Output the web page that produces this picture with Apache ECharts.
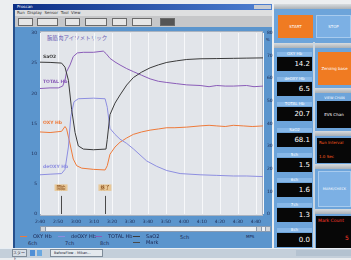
<!DOCTYPE html>
<html>
<head>
<meta charset="utf-8">
<script src="https://cdn.jsdelivr.net/npm/echarts@6/dist/echarts.min.js"></script>
<style>
html,body{margin:0;padding:0;}
body{width:351px;height:260px;position:relative;overflow:hidden;background:#eceef0;font-family:"DejaVu Sans",Arial,sans-serif;}
.a{position:absolute;box-sizing:border-box;}
.bar{position:absolute;height:5px;background:linear-gradient(#d8dcdf,#aab0b6);box-sizing:border-box;}
.lbl{position:absolute;left:277px;width:35px;height:4px;font-size:4px;line-height:4px;color:#fff;text-align:center;background:#88b8e8;}
.box{position:absolute;left:277px;width:35px;height:14px;background:#070707;color:#fff;font-size:7px;line-height:14px;text-align:right;padding-right:2px;box-sizing:border-box;}
.tb{position:absolute;top:18px;height:8px;background:#e6e6e6;border:1px solid #6a6a6a;box-sizing:border-box;}
.txt{position:absolute;white-space:nowrap;}
#chart{position:absolute;left:0;top:0;width:351px;height:260px;z-index:5;}
</style>
</head>
<body>
<!-- main window -->
<div class="a" style="left:13px;top:4px;width:259px;height:244px;background:#5b95cd;border-left:2px solid #27508c"></div>
<div class="a" style="left:13px;top:4px;width:259px;height:6px;background:linear-gradient(90deg,#0c2d84,#4e80d2)"></div>
<div class="txt" style="left:17px;top:4px;font-size:4px;line-height:6px;color:#fff">Proscan</div>
<div class="a" style="left:254px;top:5px;width:17px;height:4px;background:#c8ccd2"></div>
<div class="a" style="left:15px;top:10px;width:257px;height:6px;background:#dedfe0"></div>
<div class="txt" style="left:17px;top:10px;font-size:4px;line-height:6px;color:#333">Run&nbsp;&nbsp;Display&nbsp;&nbsp;Sensor&nbsp;&nbsp;Tool&nbsp;&nbsp;View</div>
<div class="a" style="left:15px;top:16px;width:257px;height:11px;background:#c6c7c9"></div>
<div class="tb" style="left:18px;width:15px"></div>
<div class="tb" style="left:37px;width:21px"></div>
<div class="tb" style="left:65px;width:15px"></div>
<div class="tb" style="left:85px;width:22px"></div>
<div class="tb" style="left:112px;width:15px"></div>
<div class="tb" style="left:132px;width:20px"></div>
<div class="tb" style="left:160px;width:15px;background:#555"></div>
<!-- plot background -->
<div class="a" style="left:40px;top:31px;width:223px;height:185px;background:#e2e5ea;border:1px solid #aab3c0"></div>
<div class="txt" style="left:47px;top:35px;font-size:5.5px;line-height:7px;color:#6a5cb4;font-family:'Noto Sans CJK JP'">腕筋肉アイソメトリック</div>
<div class="txt" style="left:266px;top:37px;font-size:4px;color:#1c2850">%</div>
<!-- scrollbar -->
<div class="a" style="left:40px;top:226px;width:231px;height:6px;background:#eef1f4;border:1px solid #8a9aae"></div>
<div class="a" style="left:40px;top:226px;width:6px;height:6px;background:#d4d8dc;border:1px solid #8a9aae"></div>
<div class="a" style="left:256px;top:226px;width:6px;height:6px;background:#d4d8dc;border:1px solid #8a9aae"></div>
<div class="a" style="left:265px;top:226px;width:6px;height:6px;background:#d4d8dc;border:1px solid #8a9aae"></div>
<!-- channel labels under legend -->
<div class="txt" style="left:180px;top:234px;font-size:5px;color:#1a2450">5ch</div>
<div class="txt" style="left:246px;top:234px;font-size:4px;color:#1a2450">MPS</div>
<div class="txt" style="left:28px;top:240px;font-size:5px;color:#1a2450">6ch</div>
<div class="txt" style="left:65px;top:240px;font-size:5px;color:#1a2450">7ch</div>
<div class="txt" style="left:100px;top:240px;font-size:5px;color:#1a2450">8ch</div>
<!-- right panel -->
<div class="a" style="left:274px;top:4px;width:77px;height:244px;background:#6da4da"></div>
<div class="bar" style="left:274px;top:4px;width:77px"></div>
<div class="a" style="left:278px;top:15px;width:35px;height:23px;background:#f07b22;color:#fff;font-size:4px;line-height:23px;text-align:center">START</div>
<div class="a" style="left:316px;top:15px;width:35px;height:23px;background:#7cb0e4;border:1px solid #a8cbee;color:#fff;font-size:4px;line-height:21px;text-align:center">STOP</div>
<div class="a" style="left:313px;top:42px;width:2px;height:206px;background:#c9d6e2"></div>
<div class="bar" style="left:274px;top:43px;width:39px"></div>
<div class="bar" style="left:315px;top:43px;width:36px"></div>
<div class="lbl" style="top:52px">OXY Hb</div><div class="box" style="top:57px">14.2</div>
<div class="lbl" style="top:77px">deOXY Hb</div><div class="box" style="top:82px">6.5</div>
<div class="lbl" style="top:102px">TOTAL Hb</div><div class="box" style="top:107px">20.7</div>
<div class="lbl" style="top:128px">SaO2</div><div class="box" style="top:133px">68.1</div>
<div class="lbl" style="top:153px">5ch</div><div class="box" style="top:158px">1.5</div>
<div class="lbl" style="top:178px">6ch</div><div class="box" style="top:183px">1.6</div>
<div class="lbl" style="top:203px">7ch</div><div class="box" style="top:208px">1.3</div>
<div class="lbl" style="top:228px">8ch</div><div class="box" style="top:233px">0.0</div>
<div class="a" style="left:318px;top:52px;width:33px;height:33px;background:#f07b22;color:#fff;font-size:4px;line-height:33px;text-align:center">Zeroing base</div>
<div class="bar" style="left:315px;top:88px;width:36px"></div>
<div class="a" style="left:318px;top:96px;width:33px;height:4px;font-size:3.5px;line-height:4px;color:#fff;text-align:center">VIEW CHAN</div>
<div class="a" style="left:317px;top:101px;width:34px;height:27px;background:#070707;color:#fff;font-size:4px;line-height:27px;text-align:center">EVS Chan</div>
<div class="bar" style="left:315px;top:131px;width:36px"></div>
<div class="a" style="left:317px;top:138px;width:34px;height:25px;background:#070707"></div>
<div class="txt" style="left:319px;top:140px;font-size:4px;color:#ff5a1e">Run Interval</div>
<div class="txt" style="left:319px;top:154px;font-size:4px;color:#ff5a1e">1.0 Sec</div>
<div class="bar" style="left:315px;top:164px;width:36px"></div>
<div class="a" style="left:318px;top:171px;width:33px;height:36px;background:#7cb0e4;border:1px solid #a8cbee;color:#fff;font-size:3.5px;line-height:34px;text-align:center">MARK/CHECK</div>
<div class="bar" style="left:315px;top:209px;width:36px"></div>
<div class="a" style="left:316px;top:216px;width:35px;height:32px;background:#070707"></div>
<div class="txt" style="left:318px;top:218px;font-size:4.5px;color:#ff3a2a">Mark Count</div>
<div class="txt" style="left:345px;top:234px;font-size:6px;color:#ff3a2a">5</div>
<!-- taskbar -->
<div class="a" style="left:0;top:248px;width:351px;height:10px;background:#c4cfda;border-top:1px solid #e8eef4"></div>
<div class="a" style="left:12px;top:249px;width:15px;height:8px;background:#d8dfe6;border:1px solid #7f8c99;font-size:3.5px;line-height:6px;color:#223">スタート</div>
<div class="a" style="left:30px;top:250px;width:5px;height:6px;background:#4f8fd6"></div>
<div class="a" style="left:37px;top:250px;width:5px;height:6px;background:#6aa8e0"></div>
<div class="a" style="left:50px;top:249px;width:53px;height:8px;background:#e4e9ee;border:1px solid #7f8c99;font-size:3.5px;line-height:6px;color:#223;padding-left:3px">BeforeFlow - Mikan...</div>
<div class="a" style="left:296px;top:250px;width:55px;height:6px;background:#b4c2d0"></div>
<div id="chart"></div>
<script>
// 時間軸 (秒)
const xTickLabels = ['2:40', '2:50', '3:00', '3:10', '3:20', '3:30', '3:40', '3:50', '4:00', '4:10', '4:20', '4:30', '4:40'];
const markTimes = [11.7, 36.1];
const markNames = ['開始', '終了'];

// OXY Hb (左軸)
const oxyT = [0, 5.6, 12.0, 13.9, 14.8, 16.7, 18.5, 20.4, 23.2, 29.7, 36.2, 37.4, 38.9, 41.7, 44.5, 48.2, 51.9, 56.5, 61.2, 66.0, 70.5, 75.0, 81.6, 89.0, 94.0, 98.3, 103.0, 107.5, 113.0, 118.0, 124.0];
const oxyV = [13.6, 13.5, 13.7, 14.5, 14.1, 11.6, 9.1, 8.0, 7.6, 7.4, 7.3, 8.0, 9.9, 11.1, 11.9, 12.6, 13.2, 13.6, 13.9, 14.1, 14.3, 14.3, 14.4, 14.6, 14.7, 14.6, 14.5, 14.7, 14.6, 14.5, 14.6];

// deOXY Hb (左軸)
const deoxyT = [0, 5.6, 12.0, 13.9, 15.8, 17.1, 18.9, 21.3, 29.7, 36.2, 37.4, 38.9, 41.7, 44.5, 48.2, 51.9, 59.3, 64.9, 70.5, 77.9, 89.0, 98.3, 107.5, 115.0, 124.0];
const deoxyV = [6.5, 6.6, 6.7, 7.4, 11.1, 16.1, 18.6, 19.1, 19.2, 19.1, 17.7, 14.2, 13.2, 12.4, 11.7, 10.8, 8.8, 7.9, 7.2, 6.7, 6.5, 6.4, 6.3, 6.3, 6.2];

// TOTAL Hb (左軸)
const totalT = [0, 5.6, 10.2, 12.6, 13.9, 14.8, 16.7, 18.5, 20.8, 24.1, 29.7, 35.2, 36.7, 38.9, 41.7, 44.5, 48.2, 51.9, 56.5, 61.2, 65.8, 70.5, 76.0, 81.6, 89.0, 94.0, 98.3, 103.0, 107.5, 114.9, 119.0, 124.0];
const totalV = [20.8, 20.9, 20.9, 21.2, 22.2, 23.6, 24.7, 26.1, 26.7, 26.8, 26.8, 27.0, 26.6, 25.8, 25.2, 24.7, 24.1, 23.6, 23.0, 22.4, 22.0, 21.8, 21.6, 21.4, 21.3, 21.1, 21.3, 21.2, 21.2, 21.3, 21.1, 21.2];

// SaO2 (右軸 %)
const sao2T = [0, 5.6, 12.0, 13.9, 15.8, 17.6, 19.5, 21.3, 24.1, 29.7, 36.7, 37.4, 38.9, 41.7, 44.5, 48.2, 51.9, 56.5, 61.2, 65.8, 70.5, 76.0, 81.6, 89.0, 98.3, 107.5, 115.0, 124.0];
const sao2V = [67.1, 67.0, 66.7, 64.9, 59.1, 46.1, 36.0, 30.1, 28.7, 28.4, 28.7, 33.0, 43.9, 49.0, 52.6, 57.0, 60.3, 62.7, 64.6, 65.9, 67.0, 67.7, 68.3, 68.6, 68.7, 68.8, 68.9, 69.0];

const pairs = (t, v) => t.map((x, i) => [x, v[i]]);

const chart = echarts.init(document.getElementById('chart'));

function lineSeries(name, t, v, color, axis, labelDy) {
  return {
    name: name,
    type: 'line',
    yAxisIndex: axis,
    data: pairs(t, v),
    showSymbol: false,
    smooth: false,
    color: color,
    lineStyle: { width: 1, color: color },
    animation: false,
    markPoint: {
      silent: true,
      animation: false,
      symbol: 'circle',
      symbolSize: 0,
      data: [{ coord: [t[0], v[0]] }],
      label: {
        show: true,
        formatter: name,
        position: 'right',
        distance: 3,
        offset: [0, labelDy],
        fontSize: 4.5,
        fontWeight: 'bold',
        color: color
      }
    }
  };
}

chart.setOption({
  backgroundColor: 'transparent',
  textStyle: { fontFamily: 'DejaVu Sans' },
  grid: { left: 40, right: 88, top: 33, bottom: 46 },
  legend: [
    { data: ['OXY Hb'], left: 20, top: 234 },
    { data: ['deOXY Hb'], left: 58, top: 234 },
    { data: ['TOTAL Hb'], left: 95, top: 234 },
    { data: ['SaO2'], left: 133, top: 234 },
    { data: ['Mark'], left: 133, top: 240 }
  ].map(l => Object.assign(l, {
    icon: 'rect', itemWidth: 7, itemHeight: 1, itemGap: 0, padding: 0,
    selectedMode: false,
    textStyle: { fontSize: 5, color: '#1a2450', padding: [0, 0, 0, 1] }
  })),
  xAxis: {
    type: 'value',
    min: 0,
    max: 124,
    interval: 10,
    axisLine: { show: false },
    axisTick: { show: false },
    splitLine: { show: true, lineStyle: { color: '#f7f8fa', width: 1 } },
    axisLabel: {
      fontSize: 4.5,
      color: '#1c2850',
      margin: 5,
      showMaxLabel: false,
      formatter: v => xTickLabels[Math.round(v / 10)] || ''
    }
  },
  yAxis: [
    {
      type: 'value', min: 0, max: 30, interval: 5,
      axisLine: { show: false }, axisTick: { show: false }, splitLine: { show: false },
      axisLabel: { fontSize: 4.5, color: '#1c2850', margin: 3 }
    },
    {
      type: 'value', min: 0, max: 80, interval: 10, position: 'right',
      axisLine: { show: false }, axisTick: { show: false }, splitLine: { show: false },
      axisLabel: { fontSize: 4.5, color: '#1c2850', margin: 4 }
    }
  ],
  series: [
    lineSeries('OXY Hb', oxyT, oxyV, '#ee7a3a', 0, -9),
    lineSeries('deOXY Hb', deoxyT, deoxyV, '#8d8ee0', 0, -8),
    lineSeries('TOTAL Hb', totalT, totalV, '#8a5cb8', 0, -7),
    lineSeries('SaO2', sao2T, sao2V, '#3a3a3a', 1, -5),
    {
      name: 'Mark',
      type: 'line',
      data: [],
      color: '#4a4a4a',
      animation: false,
      markLine: {
        silent: true,
        animation: false,
        symbol: ['none', 'none'],
        lineStyle: { color: '#4a4a4a', width: 1, type: 'solid' },
        label: {
          show: true,
          position: 'end',
          formatter: '{b}',
          fontSize: 4.5,
          color: '#7a3a08',
          backgroundColor: '#e8c898',
          padding: [1, 2],
          fontFamily: 'Noto Sans CJK JP'
        },
        data: markTimes.map((t, i) => [
          { name: markNames[i], coord: [t, 0] },
          { coord: [t, 3] }
        ])
      }
    }
  ]
});
</script>
</body>
</html>
